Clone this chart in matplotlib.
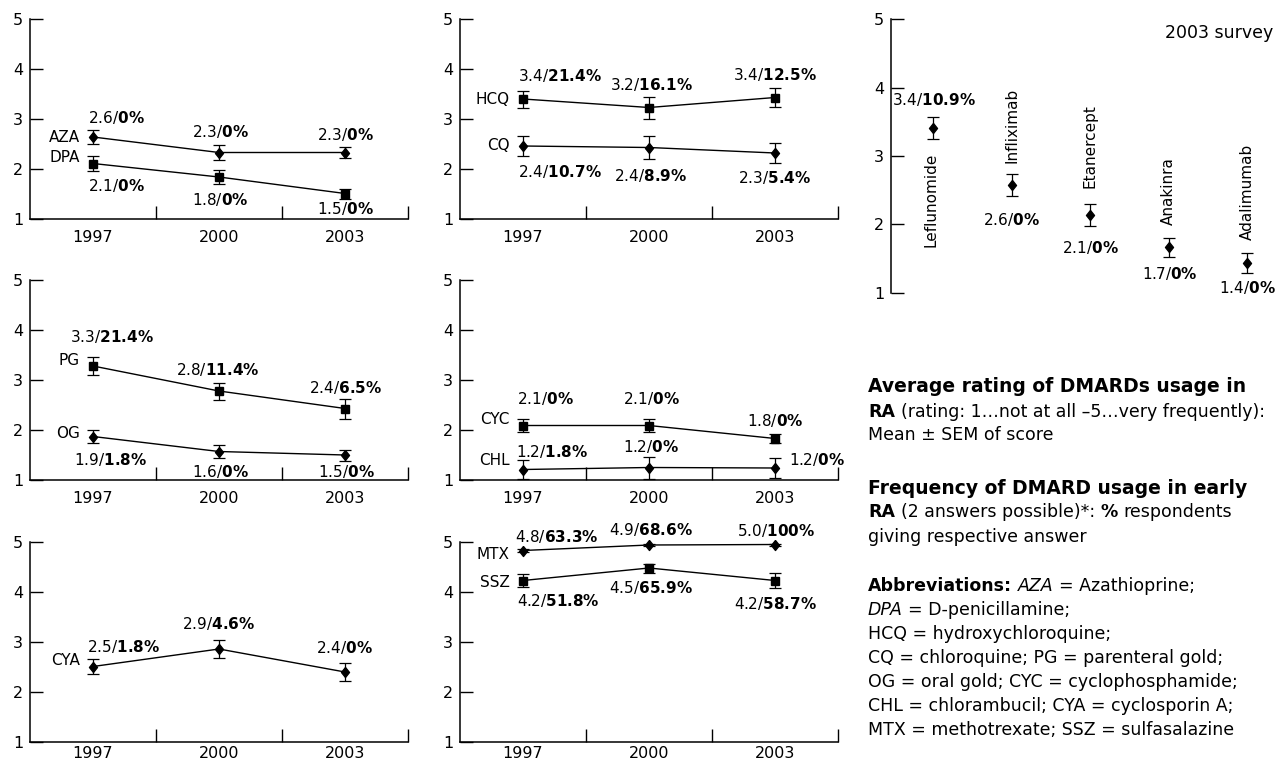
import matplotlib
matplotlib.use('Agg')
import matplotlib.pyplot as plt
from matplotlib.text import Annotation
import numpy as np

plt.rcParams['font.family'] = ['DejaVu Sans']
plt.rcParams['mathtext.fontset'] = 'custom'
plt.rcParams['mathtext.rm'] = 'DejaVu Sans'
plt.rcParams['mathtext.bf'] = 'DejaVu Sans:bold'
plt.rcParams['mathtext.it'] = 'DejaVu Sans:italic'

W, H = 1278, 764

years = ['1997', '2000', '2003']

# mean rating, SEM, "mean/% respondents" labels
aza_mean = [2.64, 2.33, 2.33]
aza_sem = [0.14, 0.15, 0.11]
aza_text = ['2.6/0%', '2.3/0%', '2.3/0%']
dpa_mean = [2.11, 1.84, 1.51]
dpa_sem = [0.145, 0.135, 0.10]
dpa_text = ['2.1/0%', '1.8/0%', '1.5/0%']

hcq_mean = [3.40, 3.23, 3.43]
hcq_sem = [0.17, 0.22, 0.18]
hcq_text = ['3.4/21.4%', '3.2/16.1%', '3.4/12.5%']
cq_mean = [2.46, 2.43, 2.32]
cq_sem = [0.20, 0.23, 0.20]
cq_text = ['2.4/10.7%', '2.4/8.9%', '2.3/5.4%']

pg_mean = [3.28, 2.78, 2.43]
pg_sem = [0.175, 0.17, 0.20]
pg_text = ['3.3/21.4%', '2.8/11.4%', '2.4/6.5%']
og_mean = [1.87, 1.57, 1.50]
og_sem = [0.13, 0.13, 0.11]
og_text = ['1.9/1.8%', '1.6/0%', '1.5/0%']

cyc_mean = [2.09, 2.09, 1.83]
cyc_sem = [0.13, 0.13, 0.09]
cyc_text = ['2.1/0%', '2.1/0%', '1.8/0%']
chl_mean = [1.21, 1.25, 1.24]
chl_sem = [0.19, 0.22, 0.20]
chl_text = ['1.2/1.8%', '1.2/0%', '1.2/0%']

cya_mean = [2.51, 2.86, 2.40]
cya_sem = [0.15, 0.18, 0.18]
cya_text = ['2.5/1.8%', '2.9/4.6%', '2.4/0%']

mtx_mean = [4.83, 4.94, 4.95]
mtx_sem = [0.03, 0.02, 0.02]
mtx_text = ['4.8/63.3%', '4.9/68.6%', '5.0/100%']
ssz_mean = [4.23, 4.48, 4.23]
ssz_sem = [0.13, 0.09, 0.15]
ssz_text = ['4.2/51.8%', '4.5/65.9%', '4.2/58.7%']

new_names = ['Leflunomide', 'Infliximab', 'Etanercept', 'Anakinra', 'Adalimumab']
new_mean = [3.41, 2.58, 2.14, 1.67, 1.44]
new_sem = [0.16, 0.16, 0.165, 0.14, 0.145]
new_text = ['3.4/10.9%', '2.6/0%', '2.1/0%', '1.7/0%', '1.4/0%']

DIAMOND = [(0, 1), (0.8, 0), (0, -1), (-0.8, 0), (0, 1)]
ANN_FS = 11
NAME_FS = 11
TICK_FS = 11.5

fig = plt.figure(figsize=(W / 100, H / 100), dpi=100)


def rich(t):
    # "2.6/0%" -> regular mean, bold percentage
    a, b = t.split('/')
    return a + '/$\\mathbf{' + b.replace('%', '\\%') + '}$'


def make_axes(l, t, r, b):
    ax = fig.add_axes([l / W, 1 - b / H, (r - l) / W, (b - t) / H])
    ax.set_ylim(1, 5)
    ax.spines[['top', 'right']].set_visible(False)
    for s in ['left', 'bottom']:
        ax.spines[s].set_linewidth(1.1)
    ax.set_yticks([1, 2, 3, 4, 5])
    ax.tick_params(axis='y', direction='in', length=9.5, width=1, pad=5, labelsize=TICK_FS)
    ax.patch.set_alpha(0)
    return ax


def line_axes(l, t, r, b, pad=8):
    ax = make_axes(l, t, r, b)
    ax.set_xlim(0, 3)
    ax.set_xticks([0.5, 1.5, 2.5], years)
    ax.set_xticks([1, 2, 3], minor=True)
    ax.tick_params(axis='x', which='major', length=0, pad=pad, labelsize=TICK_FS)
    ax.tick_params(axis='x', which='minor', direction='in', length=9.5, width=1)
    return ax


def draw(ax, x, mean, sem, marker, ms, ls='-'):
    c = ax.errorbar(x, mean, yerr=sem, color='k', lw=1, ls=ls, marker=marker, ms=ms,
                    capsize=4, elinewidth=0.9, capthick=0.9)
    for a in c.lines[0:1] + tuple(c.lines[1]) + tuple(c.lines[2]):
        a.set_clip_on(False)


def series(ax, mean, sem, texts, offs, name, name_off, marker, ms):
    x = np.arange(len(mean)) + 0.5
    draw(ax, x, mean, sem, marker, ms)
    for xi, yi, t, (dx, dy) in zip(x, mean, texts, offs):
        ax.annotate(rich(t), (xi, yi), xytext=(dx, dy), textcoords='offset pixels',
                    ha='center', va='center', fontsize=ANN_FS, annotation_clip=False)
    ax.annotate(name, (x[0], mean[0]), xytext=(-13, name_off), textcoords='offset pixels',
                ha='right', va='center', fontsize=NAME_FS, annotation_clip=False)


# top left: AZA / DPA
ax = line_axes(30, 19, 408, 219)
series(ax, aza_mean, aza_sem, aza_text, [(23, 20), (1, 21), (0, 18)], 'AZA', 0, DIAMOND, 7.2)
series(ax, dpa_mean, dpa_sem, dpa_text, [(23, -22), (1, -22), (0, -15)], 'DPA', 6, 's', 5.6)

# top middle: HCQ / CQ
ax = line_axes(460, 19, 838, 219)
series(ax, hcq_mean, hcq_sem, hcq_text, [(37, 23), (2, 23), (0, 23)], 'HCQ', 0, 's', 5.6)
series(ax, cq_mean, cq_sem, cq_text, [(37, -25), (2, -28), (0, -25)], 'CQ', 0, DIAMOND, 7.2)

# middle left: PG / OG
ax = line_axes(30, 280, 408, 480)
series(ax, pg_mean, pg_sem, pg_text, [(19, 30), (-1, 22), (1, 21)], 'PG', 6, 's', 5.6)
series(ax, og_mean, og_sem, og_text, [(17, -23), (1, -20), (1, -16)], 'OG', 3, DIAMOND, 7.2)

# middle middle: CYC / CHL
ax = line_axes(460, 280, 838, 480)
series(ax, cyc_mean, cyc_sem, cyc_text, [(22, 27), (2, 27), (0, 18)], 'CYC', 6, 's', 5.6)
series(ax, chl_mean, chl_sem, chl_text, [(29, 18), (2, 21), (42, 8)], 'CHL', 9, DIAMOND, 7.2)

# bottom left: CYA
ax = line_axes(30, 542, 408, 742, pad=3)
series(ax, cya_mean, cya_sem, cya_text, [(30, 20), (0, 25), (-1, 24)], 'CYA', 6, DIAMOND, 7.2)

# bottom middle: MTX / SSZ
ax = line_axes(460, 542, 838, 742, pad=3)
series(ax, mtx_mean, mtx_sem, mtx_text, [(34, 14), (2, 15), (1, 14)], 'MTX', -4, DIAMOND, 7.2)
series(ax, ssz_mean, ssz_sem, ssz_text, [(35, -20), (2, -19), (0, -23)], 'SSZ', -2, 's', 5.6)

# top right: 2003 survey, newer DMARDs
ax = make_axes(891, 19, 1275, 293)
ax.spines['bottom'].set_visible(False)
ax.set_xlim(-0.534, 4.35)
ax.set_xticks([])
xn = np.arange(len(new_mean))
draw(ax, xn, new_mean, new_sem, DIAMOND, 7.2, ls='none')
text_offs = [(1, 28), (0, -35), (0, -33), (1, -26), (0, -25)]
name_offs = [(-2, -25, 'top'), (0, 22, 'bottom'), (0, 27, 'bottom'), (0, 22, 'bottom'), (0, 23, 'bottom')]
for xi, yi, t, nm, (dx, dy), (nx, ny, va) in zip(xn, new_mean, new_text, new_names, text_offs, name_offs):
    ax.annotate(rich(t), (xi, yi), xytext=(dx, dy), textcoords='offset pixels',
                ha='center', va='center', fontsize=ANN_FS, annotation_clip=False)
    ax.annotate(nm, (xi, yi), xytext=(nx, ny), textcoords='offset pixels', rotation=90,
                ha='center', va=va, fontsize=11, annotation_clip=False)
fig.text(1273 / W, 1 - 33 / H, '2003 survey', ha='right', va='center', fontsize=12.5)


# caption text, built from bold / italic / regular pieces
def rich_line(y, parts, fs=12.5):
    prev = None
    for s, w, st, k in parts:
        gap = 0
        if s.startswith(' '):
            gap = 0.32 * fs
            s = s.lstrip()
        # keep baselines level when a piece is set smaller
        lift = (1 - k) * 0.236 * fs
        kw = dict(fontsize=fs * k, fontweight=w, fontstyle=st, ha='left', va='bottom')
        if prev is None:
            prev = fig.text(868 / W, 1 - (y + 8) / H, s, **kw)
        else:
            prev = fig.add_artist(Annotation(s, xy=(1, 0), xycoords=prev, xytext=(gap, lift),
                                             textcoords='offset points', **kw))
            if k != 1:
                # next piece should sit on the normal bottom again
                prev._lift = lift


def R(s, k=1):
    return (s, 'normal', 'normal', k)


def B(s):
    return (s, 'bold', 'normal', 1)


def I(s):
    return (s, 'normal', 'italic', 1)


caption = [
    (388, [B('Average rating of DMARDs usage in')], 13.5),
    (413, [B('RA'), R(' (rating: 1…not at all –5…very frequently):')], 12.5),
    (436, [R('Mean ± SEM of score')], 12.5),
    (490, [B('Frequency of DMARD usage in early')], 13.5),
    (513, [B('RA'), R(' (2 answers possible)*:'), B(' %'), R(' respondents')], 12.5),
    (538, [R('giving respective answer')], 12.5),
    (587, [B('Abbreviations:'), I(' AZA'), R(' = Azathioprine;')], 12.5),
    (611, [I('DPA'), R('  = D-penicillamine;')], 12.5),
    (635, [R('HCQ = hydroxychloroquine;')], 12.5),
    (659, [R('CQ = chloroquine; PG = parenteral gold;')], 12.5),
    (683, [R('OG = oral gold; CYC = cyclophosphamide;')], 12.5),
    (707, [R('CHL = chlorambucil; CYA = cyclosporin A;')], 12.5),
    (731, [R('MTX = methotrexate; SSZ = sulfasalazine')], 12.5),
]
for y, parts, fs in caption:
    rich_line(y, parts, fs)

fig.savefig('out.png', dpi=100)
